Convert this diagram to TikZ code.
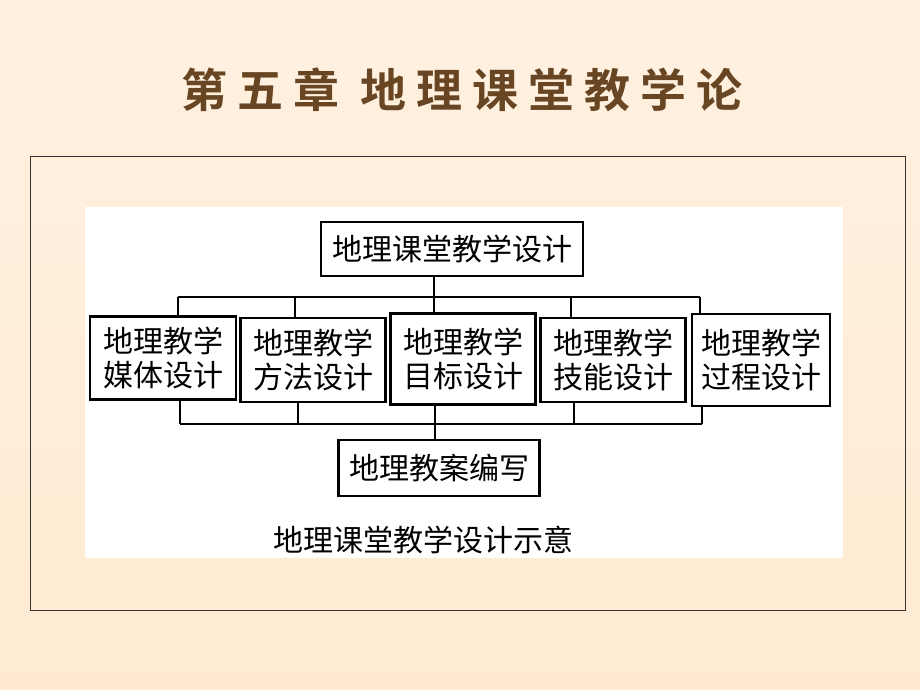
\documentclass[tikz,border=0pt]{standalone}
\usepackage{fontspec}
\newfontfamily\cjk{Noto Sans CJK SC}
\newfontfamily\titlef[LetterSpace=22]{Noto Sans CJK SC Bold}
\begin{document}
\begin{tikzpicture}[x=1pt,y=-1pt,
  box/.style={draw=black,line width=2.5pt,align=center,inner sep=0pt,font=\cjk\fontsize{30}{34}\selectfont},
  link/.style={line width=2.5pt}]
\useasboundingbox (0,0) rectangle (920,690);
\shade[top color=yellow!5!orange!12!white,bottom color=yellow!10!orange!18!white] (0,0) rectangle (920,690);
\node (title) [font=\titlef\fontsize{46}{50}\selectfont,text=brown!55!black] at (462,90) {第五章\ 地理课堂教学论};
\draw[black!80,line width=0.8pt] (30,156) rectangle (905,610);
\fill[white] (85,207) rectangle (843,558);
\node (top) [box,minimum width=262pt,minimum height=54pt] at (452,249) {地理课堂教学设计};
\node (b1) [box,minimum width=146pt,minimum height=83pt] at (163,358) {地理教学\\媒体设计};
\node (b2) [box,minimum width=145pt,minimum height=84pt] at (313,360) {地理教学\\方法设计};
\node (b3) [box,minimum width=145pt,minimum height=91pt] at (463,359) {地理教学\\目标设计};
\node (b4) [box,minimum width=145pt,minimum height=84pt] at (613,360) {地理教学\\技能设计};
\node (b5) [box,minimum width=138pt,minimum height=92pt] at (761,360) {地理教学\\过程设计};
\node (bot) [box,minimum width=201pt,minimum height=56pt] at (439,468) {地理教案编写};
\node (cap) [font=\cjk\fontsize{30}{34}\selectfont] at (423,540) {地理课堂教学设计示意};
\coordinate (tl) at (178,297); \coordinate (tr) at (700,297);
\coordinate (bl) at (180,424); \coordinate (br) at (702,424);
\draw[link] (top.south -| 434,0) -- (434,297);
\draw[link] (tl) -- (tr);
\draw[link] (tl) -- (tl |- b1.north);
\draw[link] (295,297) -- (b2.north -| 295,0);
\draw[link] (434,297) -- (b3.north -| 434,0);
\draw[link] (571,297) -- (b4.north -| 571,0);
\draw[link] (tr) -- (tr |- b5.north);
\draw[link] (bl) -- (br);
\draw[link] (bl) -- (bl |- b1.south);
\draw[link] (298,424) -- (b2.south -| 298,0);
\draw[link] (435,424) -- (b3.south -| 435,0);
\draw[link] (574,424) -- (b4.south -| 574,0);
\draw[link] (br) -- (br |- b5.south);
\draw[link] (435,424) -- (bot.north -| 435,0);
\end{tikzpicture}
\end{document}
